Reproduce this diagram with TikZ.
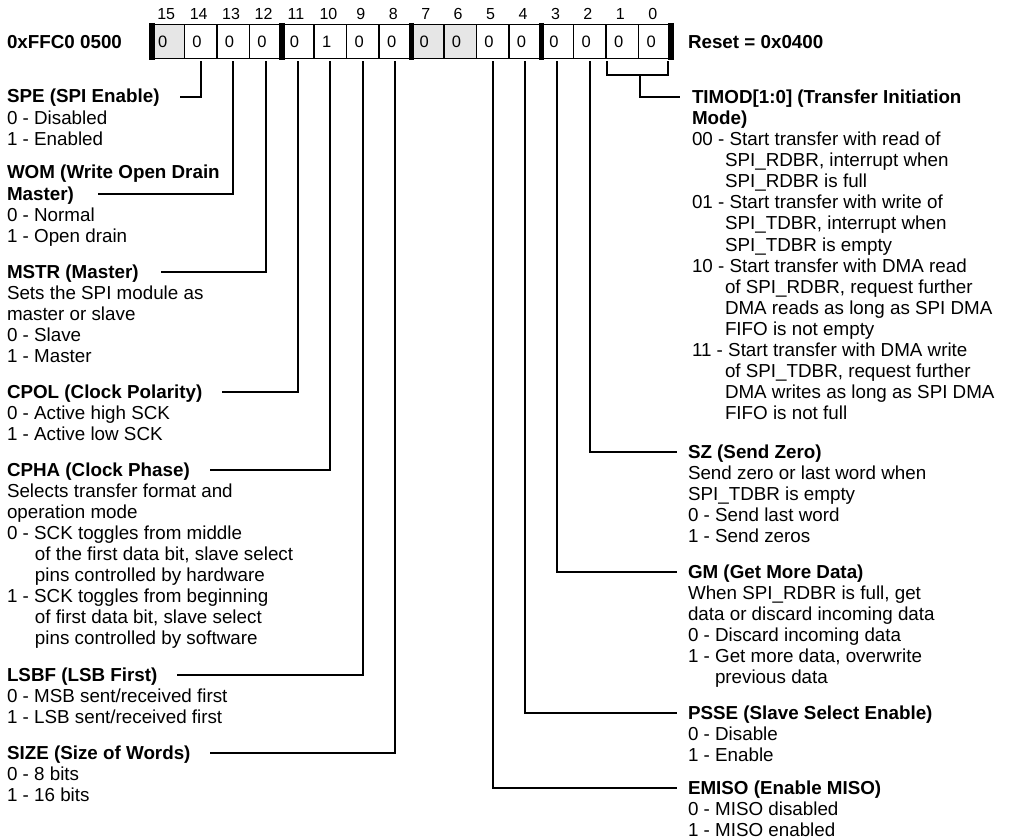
\documentclass[tikz,border=0pt]{standalone}
\usepackage{fontspec}
\setmainfont{Liberation Sans}
\definecolor{regfill}{RGB}{230,230,230}
\newcommand\regblock[5]{%
  \node[ttl] (#1) at (#2,#3) {#4};
  \foreach [count=\i] \t in {#5} {\node[txt] (#1-\i) at (#2,{#3+\i*21.1}) {\t};}
}
\begin{document}
\begin{tikzpicture}[x=1pt,y=-1pt,
  every node/.style={inner sep=0pt, outer sep=0pt},
  txt/.style={anchor=base west, font=\fontsize{18.8}{21.2}\selectfont},
  ttlplain/.style={anchor=base west, font=\fontsize{18.8}{21.2}\selectfont\bfseries},
  ttl/.style={ttlplain, text height=12.6pt, text depth=0pt},
  cell/.style={draw, line width=1.6pt, minimum width=32.4375pt, minimum height=34pt},
  shaded/.style={cell, fill=regfill},
  val/.style={anchor=base west, font=\fontsize{16.5}{18}\selectfont},
  bitn/.style={anchor=base, font=\fontsize{16}{18}\selectfont},
  bar/.style={line width=5.5pt},
  conn/.style={line width=2pt}]
\useasboundingbox (0,0) rectangle (1013,840);

% register
\foreach \b in {15,...,0} {
  \node[cell] (c\b) at ({152+(15.5-\b)*32.4375},41.5) {};
  \node[bitn] (n\b) at ({152+(15.5-\b)*32.4375-2},19.5) {\b};
}
\foreach \b in {15,7,6} {\node[shaded] at (c\b) {};}
\foreach \b in {14,13,12,11,9,8,7,6,5,4,3,2,1,0} {
  \node[val] (v\b) at ({152+(15-\b)*32.4375+8},47.3) {0};
}
\node[val] (v15) at (158,47.3) {0};
\node[val] (v10) at ({152+5*32.4375+8},47.3) {1};
\foreach \b in {15,11,7,3} {
  \draw[bar] ([yshift=1.5pt]c\b.north west) -- ([yshift=-1.5pt]c\b.south west);
}
\draw[bar] ([yshift=1.5pt]c0.north east) -- ([yshift=-1.5pt]c0.south east);

\node[ttlplain] (addr) at (7,48.3) {0xFFC0 0500};
\node[ttlplain] (reset) at (688,48.3) {Reset = 0x0400};

% stub start points
\foreach \b in {14,13,12,11,10,9,8,5,4,3,2} {
  \path (c\b.south) ++(0,3) coordinate (s\b);
}
\path (c1.south west) ++(1,3) coordinate (bl);
\path (c0.south east) ++(-3,3) coordinate (br);
\coordinate (bj) at (640,75);

% left blocks
\regblock{spe}{7}{103}{SPE (SPI Enable)}{0 - Disabled, 1 - Enabled}
\node[ttlplain] (wom0) at (7,179) {WOM (Write Open Drain};
\regblock{wom}{7}{200.2}{Master)}{0 - Normal, 1 - Open drain}
\regblock{mstr}{7}{278}{MSTR (Master)}{Sets the SPI module as, master or slave, 0 - Slave, 1 - Master}
\regblock{cpol}{7}{398}{CPOL (Clock Polarity)}{0 - Active high SCK, 1 - Active low SCK}
\regblock{cpha}{7}{476}{CPHA (Clock Phase)}{Selects transfer format and, operation mode,
  0 - SCK toggles from middle, {\hspace*{28pt}of the first data bit, slave select},
  \hspace*{28pt}pins controlled by hardware, 1 - SCK toggles from beginning,
  {\hspace*{28pt}of first data bit, slave select}, \hspace*{28pt}pins controlled by software}
\regblock{lsbf}{7}{681}{LSBF (LSB First)}{0 - MSB sent/received first, 1 - LSB sent/received first}
\regblock{size}{7}{759}{SIZE (Size of Words)}{0 - 8 bits, 1 - 16 bits}

% right blocks
\regblock{timod}{692}{103.3}{TIMOD[1:0] (Transfer Initiation}{\bfseries Mode),
  00 - Start transfer with read of, {\hspace*{33pt}SPI\_RDBR, interrupt when},
  \hspace*{33pt}SPI\_RDBR is full,
  01 - Start transfer with write of, {\hspace*{33pt}SPI\_TDBR, interrupt when},
  \hspace*{33pt}SPI\_TDBR is empty,
  10 - Start transfer with DMA read, {\hspace*{33pt}of SPI\_RDBR, request further},
  \hspace*{33pt}DMA reads as long as SPI DMA, \hspace*{33pt}FIFO is not empty,
  11 - Start transfer with DMA write, {\hspace*{33pt}of SPI\_TDBR, request further},
  \hspace*{33pt}DMA writes as long as SPI DMA, \hspace*{33pt}FIFO is not full}
\regblock{sz}{688}{458.3}{SZ (Send Zero)}{Send zero or last word when, SPI\_TDBR is empty,
  0 - Send last word, 1 - Send zeros}
\regblock{gm}{688}{578.3}{GM (Get More Data)}{{When SPI\_RDBR is full, get},
  data or discard incoming data, 0 - Discard incoming data,
  {1 - Get more data, overwrite}, \hspace*{27pt}previous data}
\regblock{psse}{688}{719.3}{PSSE (Slave Select Enable)}{0 - Disable, 1 - Enable}
\regblock{emiso}{688}{794.5}{EMISO (Enable MISO)}{0 - MISO disabled, 1 - MISO enabled}

% connectors, left
\draw[conn] (s14) |- ([xshift=20pt]spe.east);
\draw[conn] (s13) |- ([xshift=24pt]wom.east);
\draw[conn] (s12) |- ([xshift=22pt]mstr.east);
\draw[conn] (s11) |- ([xshift=20pt]cpol.east);
\draw[conn] (s10) |- ([xshift=20pt]cpha.east);
\draw[conn] (s9) |- ([xshift=20pt]lsbf.east);
\draw[conn] (s8) |- ([xshift=20pt]size.east);
% connectors, right
\draw[conn] (bl) |- (bj -| br) -- (br);
\draw[conn] (bj) |- ([xshift=-12pt]timod.west);
\draw[conn] (s2) |- ([xshift=-11pt]sz.west);
\draw[conn] (s3) |- ([xshift=-11pt]gm.west);
\draw[conn] (s4) |- ([xshift=-11pt]psse.west);
\draw[conn] (s5) |- ([xshift=-11pt]emiso.west);
\end{tikzpicture}
\end{document}
